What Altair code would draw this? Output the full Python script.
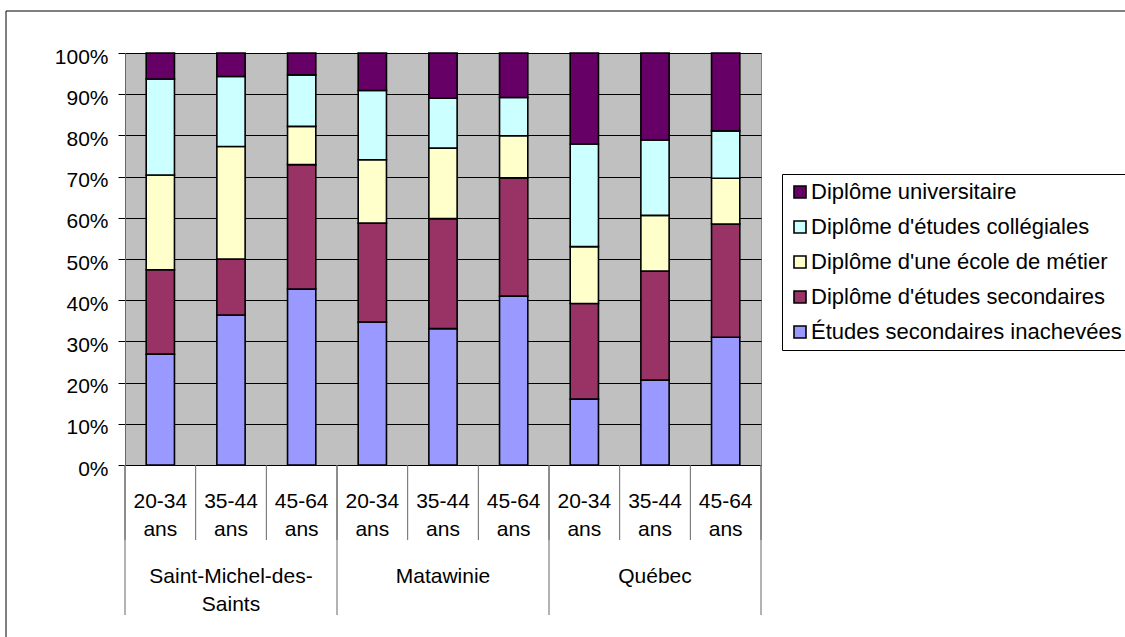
import altair as alt
import pandas as pd

FONT = "Liberation Sans"

# Regions (outer level of the category axis) and age bands (inner level)
groups = ["Saint-Michel-des-Saints", "Matawinie", "Québec"]
group_labels = ["Saint-Michel-des-\nSaints", "Matawinie", "Québec"]
ages = ["20-34 ans", "35-44 ans", "45-64 ans"]

# Education levels, from the bottom of each stack to the top
levels = [
    "Études secondaires inachevées",
    "Diplôme d'études secondaires",
    "Diplôme d'une école de métier",
    "Diplôme d'études collégiales",
    "Diplôme universitaire",
]
level_colors = ["#9999FF", "#993366", "#FFFFCC", "#CCFFFF", "#660066"]

# Share of each level (%) for the nine region / age bars
inachevees = [26.9, 36.4, 42.7, 34.7, 33.1, 41.0, 16.0, 20.6, 31.0]
secondaires = [20.5, 13.6, 30.2, 24.0, 26.7, 28.7, 23.2, 26.5, 27.5]
metier = [23.0, 27.3, 9.3, 15.4, 17.1, 10.2, 13.8, 13.5, 11.1]
collegiales = [23.3, 17.0, 12.5, 16.8, 12.1, 9.3, 24.9, 18.3, 11.5]
universitaire = [6.3, 5.7, 5.3, 9.1, 11.0, 10.8, 22.1, 21.1, 18.9]
series = [inachevees, secondaires, metier, collegiales, universitaire]

n_ages = len(ages)
n_bars = len(groups) * n_ages

rows = []
for g_i, g in enumerate(groups):
    for a_i, a in enumerate(ages):
        idx = g_i * n_ages + a_i
        for l_i, lev in enumerate(levels):
            rows.append({"idx": idx, "group": g, "age": a, "level": lev,
                         "rank": l_i, "value": series[l_i][idx]})
bars_df = pd.DataFrame(rows)

age_df = pd.DataFrame([{"idx": g_i * n_ages + a_i, "age": a}
                       for g_i in range(len(groups)) for a_i, a in enumerate(ages)])
group_df = pd.DataFrame({"g": list(range(len(groups))), "label": group_labels})
bounds = list(range(n_bars + 1))
div_df = pd.DataFrame({"b": bounds, "outer": [b % n_ages == 0 for b in bounds]})

PLOT_W, PLOT_H = 636, 412

x_scale = alt.Scale(domain=[0, n_bars], nice=False, zero=False)
y_scale = alt.Scale(domain=[0, 100], nice=False)
x_axis = alt.Axis(labels=False, ticks=False, grid=False, domain=True,
                  domainColor="black", domainWidth=1, title=None)
y_axis = alt.Axis(values=list(range(0, 101, 10)), labelExpr="datum.value + '%'",
                  grid=True, gridColor="black", gridWidth=1,
                  tickSize=7, tickColor="black", domainColor="#666666",
                  labelFont=FONT, labelFontSize=21, labelColor="black",
                  labelPadding=10, labelOffset=4, title=None)

legend = alt.Legend(orient="none", legendX=657, legendY=121, title=None,
                    strokeColor="black", fillColor="white", padding=7,
                    symbolType="square", symbolSize=144,
                    symbolStrokeColor="black", symbolStrokeWidth=1.6,
                    labelFont=FONT, labelFontSize=22, labelColor="black",
                    rowPadding=13, labelOffset=0, labelLimit=0)

frame = alt.Chart(pd.DataFrame({"k": [0]})).mark_rect(
    fill="white", fillOpacity=0, stroke="black", strokeWidth=1
).encode(x=alt.value(-119), y=alt.value(-42), x2=alt.value(1200), y2=alt.value(800))

bars = alt.Chart(bars_df).transform_stack(
    stack="value", groupby=["idx"], as_=["y0", "y1"],
    sort=[alt.SortField("rank", order="ascending")]
).transform_calculate(
    x0="datum.idx + 0.3", x1="datum.idx + 0.7"
).mark_bar(stroke="black", strokeWidth=1.6).encode(
    x=alt.X("x0:Q", scale=x_scale, axis=x_axis),
    x2="x1:Q",
    y=alt.Y("y0:Q", scale=y_scale, axis=y_axis),
    y2="y1:Q",
    color=alt.Color("level:N",
                    scale=alt.Scale(domain=levels[::-1], range=level_colors[::-1]),
                    legend=legend),
)

inner_div = alt.Chart(div_df).mark_rule(color="#666666", strokeWidth=1).encode(
    x=alt.X("b:Q", scale=x_scale, axis=x_axis),
    y=alt.value(PLOT_H), y2=alt.value(PLOT_H + 75),
)
outer_div = alt.Chart(div_df).transform_filter("datum.outer").mark_rule(
    color="#666666", strokeWidth=1
).encode(
    x=alt.X("b:Q", scale=x_scale, axis=x_axis),
    y=alt.value(PLOT_H), y2=alt.value(PLOT_H + 150),
)

age_text = alt.Chart(age_df).transform_calculate(xc="datum.idx + 0.5").mark_text(
    font=FONT, fontSize=21, color="black", align="center", baseline="alphabetic",
    lineBreak=" ", lineHeight=28
).encode(
    x=alt.X("xc:Q", scale=x_scale, axis=x_axis),
    y=alt.value(PLOT_H + 43),
    text="age:N",
)

group_text = alt.Chart(group_df).transform_calculate(
    xc=f"datum.g * {n_ages} + {n_ages / 2}"
).mark_text(
    font=FONT, fontSize=21, color="black", align="center", baseline="alphabetic",
    lineBreak="\n", lineHeight=28
).encode(
    x=alt.X("xc:Q", scale=x_scale, axis=x_axis),
    y=alt.value(PLOT_H + 118),
    text="label:N",
)

chart = alt.layer(frame, bars, inner_div, outer_div, age_text, group_text).properties(
    width=PLOT_W, height=PLOT_H,
    padding={"left": 125, "top": 53, "right": 364, "bottom": 172},
    autosize=alt.AutoSizeParams(type="none"),
    background="white",
).configure_view(fill="#C0C0C0", stroke="#808080", strokeWidth=1)

chart.save("out.html", embed_options={"renderer": "svg", "actions": False})
